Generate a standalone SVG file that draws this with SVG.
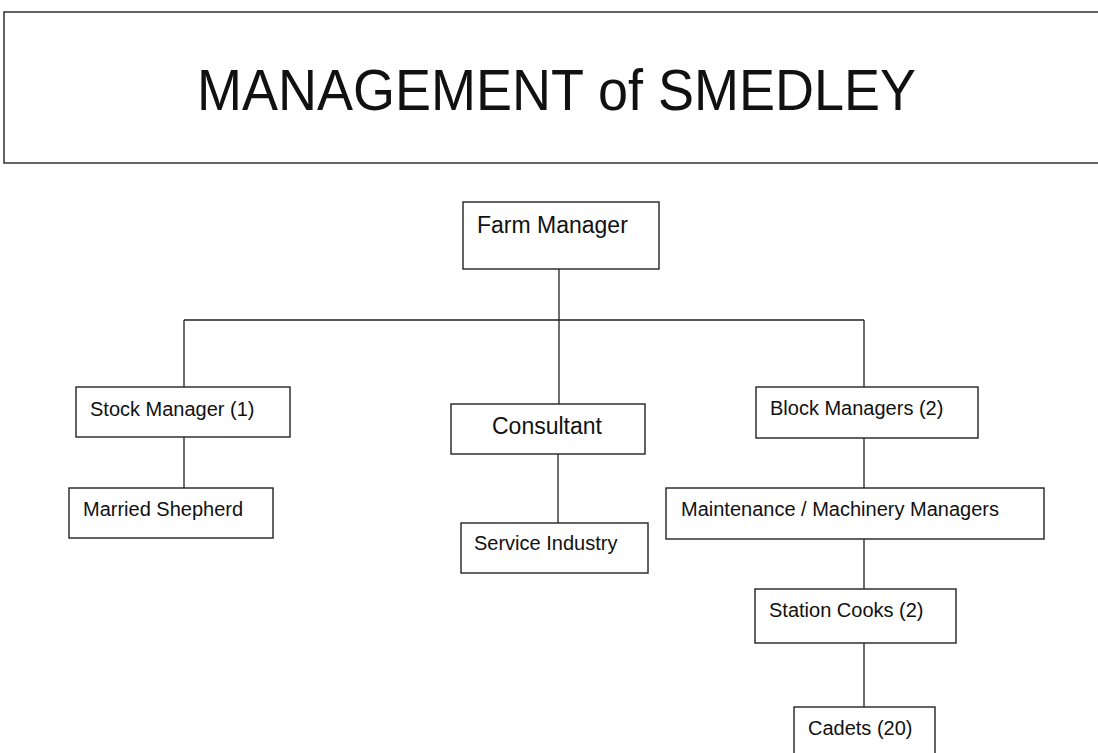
<svg xmlns="http://www.w3.org/2000/svg" width="1098" height="753" viewBox="0 0 1098 753">
<style>
.box{fill:#fff;stroke:#222;stroke-width:1.4}
.ln{fill:none;stroke:#222;stroke-width:1.3}
.t{font-family:"Liberation Sans",Arial,sans-serif;fill:#111}
.s{font-size:20px}
.m{font-size:23px}
</style>
<rect width="1098" height="753" fill="#fff"/>
<g id="title">
<rect class="box" x="4" y="12" width="1110" height="151"/>
<text class="t" x="197" y="110" font-size="58" textLength="719" lengthAdjust="spacingAndGlyphs">MANAGEMENT of SMEDLEY</text>
</g>
<g id="connectors">
<path class="ln" d="M559 269V320M184 320H864M184 320V387M559 320V404M864 320V387"/>
<path class="ln" d="M184 437V488M558 454V523M864 438V488M864 539V589M864 643V707"/>
</g>
<g id="farm-manager">
<rect class="box" x="463" y="202" width="196" height="67"/>
<text class="t m" x="477" y="233">Farm Manager</text>
</g>
<g id="stock-manager">
<rect class="box" x="76" y="387" width="214" height="50"/>
<text class="t s" x="90" y="416">Stock Manager (1)</text>
</g>
<g id="married-shepherd">
<rect class="box" x="69" y="488" width="204" height="50"/>
<text class="t s" x="83" y="516">Married Shepherd</text>
</g>
<g id="consultant">
<rect class="box" x="451" y="404" width="194" height="50"/>
<text class="t m" x="492" y="434">Consultant</text>
</g>
<g id="service-industry">
<rect class="box" x="461" y="523" width="187" height="50"/>
<text class="t s" x="474" y="550">Service Industry</text>
</g>
<g id="block-managers">
<rect class="box" x="756" y="387" width="222" height="51"/>
<text class="t s" x="770" y="415">Block Managers (2)</text>
</g>
<g id="maintenance">
<rect class="box" x="666" y="488" width="378" height="51"/>
<text class="t s" x="681" y="516">Maintenance / Machinery Managers</text>
</g>
<g id="station-cooks">
<rect class="box" x="755" y="589" width="201" height="54"/>
<text class="t s" x="769" y="617">Station Cooks (2)</text>
</g>
<g id="cadets">
<rect class="box" x="794" y="707" width="141" height="60"/>
<text class="t s" x="808" y="735">Cadets (20)</text>
</g>
</svg>
